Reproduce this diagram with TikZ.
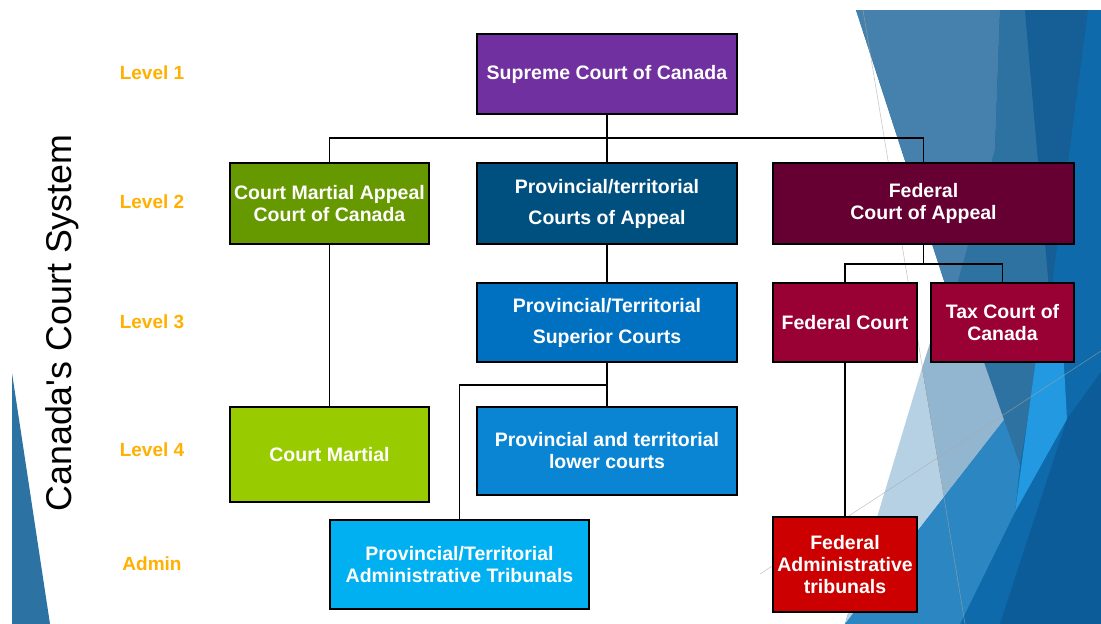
\documentclass[tikz,border=0pt]{standalone}
\usepackage{fontspec}
\setmainfont{Liberation Sans}
\definecolor{cBase}{HTML}{0E6AAA}
\definecolor{cTopL}{HTML}{4581AC}
\definecolor{cTopM}{HTML}{2E72A2}
\definecolor{cTopD}{HTML}{165F96}
\definecolor{cLTd}{HTML}{93B6D0}
\definecolor{cLTl}{HTML}{B7D1E4}
\definecolor{cBone}{HTML}{2C86C2}
\definecolor{cBright}{HTML}{2399E1}
\definecolor{cLowD}{HTML}{0B5C98}
\definecolor{cLeft}{HTML}{2C72A2}
\definecolor{lvlc}{HTML}{FFB000}
\definecolor{csup}{HTML}{7030A0}
\definecolor{ccma}{HTML}{669900}
\definecolor{cpca}{HTML}{00507F}
\definecolor{cfca}{HTML}{660033}
\definecolor{cpsc}{HTML}{0070C0}
\definecolor{cfc}{HTML}{990033}
\definecolor{ccm}{HTML}{99CC00}
\definecolor{cplc}{HTML}{0A85D3}
\definecolor{cpat}{HTML}{00B0F0}
\definecolor{cfat}{HTML}{CC0000}
\begin{document}
\begin{tikzpicture}[x=1pt,y=-1pt,
  box/.style={draw=black,line width=1.8pt,inner sep=0pt,align=center,text=white,
    font=\bfseries\fontsize{19.5}{22}\selectfont},
  wide/.style={font=\bfseries\fontsize{19.5}{31}\selectfont},
  conn/.style={line width=1.8pt,black},
  lvl/.style={text=lvlc,font=\bfseries\fontsize{19}{22}\selectfont},
  hair/.style={line width=0.6pt,color=gray!70,opacity=0.6}]

\fill[white] (0,0) rectangle (1101,624);
\useasboundingbox (0,0) rectangle (1101,624);

% background facets
\fill[cBase] (856,10) -- (1101,10) -- (1101,624) -- (845,624) -- (947,290) -- cycle;
\fill[cTopL] (856,10) -- (1000,10) -- (995,150) -- (957,285) -- (947,290) -- cycle;
\fill[cTopM] (1000,10) -- (1025,10) -- (1050,300) -- (1037,362) -- (1020,465) -- (983,362) -- (957,285) -- (995,150) -- cycle;
\fill[cTopD] (1025,10) -- (1088,10) -- (1050,300) -- cycle;
\fill[cLTd] (947,290) -- (957,285) -- (1004,420) -- (944,497) -- (922,368) -- cycle;
\fill[cLTl] (922,368) -- (944,497) -- (845,624) -- cycle;
\fill[cBone] (845,624) -- (1004,420) -- (1020,465) -- (1015,512) -- (960,624) -- cycle;
\fill[cBright] (1040,330) -- (1062,330) -- (1067,419) -- (1015,512) -- cycle;
\fill[cLowD] (1000,624) -- (1067,419) -- (1101,372) -- (1101,624) -- cycle;
\draw[hair] (863,10) -- (965,624);
\draw[hair] (760,574) -- (1101,351);
\fill[cLeft] (12,373) -- (12,624) -- (50,624) -- cycle;

% title and levels
\node[rotate=90,font=\fontsize{35.8}{40}\selectfont] (title) at (62,323) {Canada\textquotesingle s Court System};
\node[lvl] (lv1) at (152,73) {Level 1};
\node[lvl] (lv2) at (152,202) {Level 2};
\node[lvl] (lv3) at (152,322) {Level 3};
\node[lvl] (lv4) at (152,450) {Level 4};
\node[lvl] (lv5) at (152,564) {Admin};

% boxes
\node[box,fill=csup,minimum width=260,minimum height=80] (sup) at (607,74) {Supreme Court of Canada};
\node[box,fill=ccma,minimum width=199,minimum height=81] (cma) at (329.5,203.5) {Court Martial Appeal\\Court of Canada};
\node[box,wide,fill=cpca,minimum width=260,minimum height=81] (pca) at (607,203.5) {Provincial/territorial\\Courts of Appeal};
\node[box,fill=cfca,minimum width=301,minimum height=81] (fca) at (923.5,203.5) {Federal\\Court of Appeal};
\node[box,wide,fill=cpsc,minimum width=260,minimum height=79] (psc) at (607,322.5) {Provincial/Territorial\\Superior Courts};
\node[box,fill=cfc,minimum width=144,minimum height=79] (fc) at (845,322.5) {Federal Court};
\node[box,fill=cfc,minimum width=143,minimum height=79] (tax) at (1002.5,322.5) {Tax Court of\\Canada};
\node[box,fill=ccm,minimum width=199,minimum height=95] (cm) at (329.5,454.5) {Court Martial};
\node[box,fill=cplc,minimum width=260,minimum height=88] (plc) at (607,451) {Provincial and territorial\\lower courts};
\node[box,fill=cpat,minimum width=259,minimum height=89] (pat) at (459.5,564.5) {Provincial/Territorial\\Administrative Tribunals};
\node[box,fill=cfat,minimum width=144,minimum height=95] (fat) at (845,564.5) {Federal\\Administrative\\tribunals};

% connectors
\draw[conn] (sup.south) -- (pca.north);
\draw[conn] (cma.north) -- ++(0,-24) -| (fca.north);
\draw[conn] (pca.south) -- (psc.north);
\draw[conn] (fca.south) -- ++(0,19);
\draw[conn] (fc.north) -- ++(0,-18) -| (tax.north);
\draw[conn] (psc.south) -- (plc.north);
\draw[conn] (psc.south) -- ++(0,22) -| (pat.north);
\draw[conn] (cma.south) -- (cm.north);
\draw[conn] (fc.south) -- (fat.north);
\end{tikzpicture}
\end{document}
